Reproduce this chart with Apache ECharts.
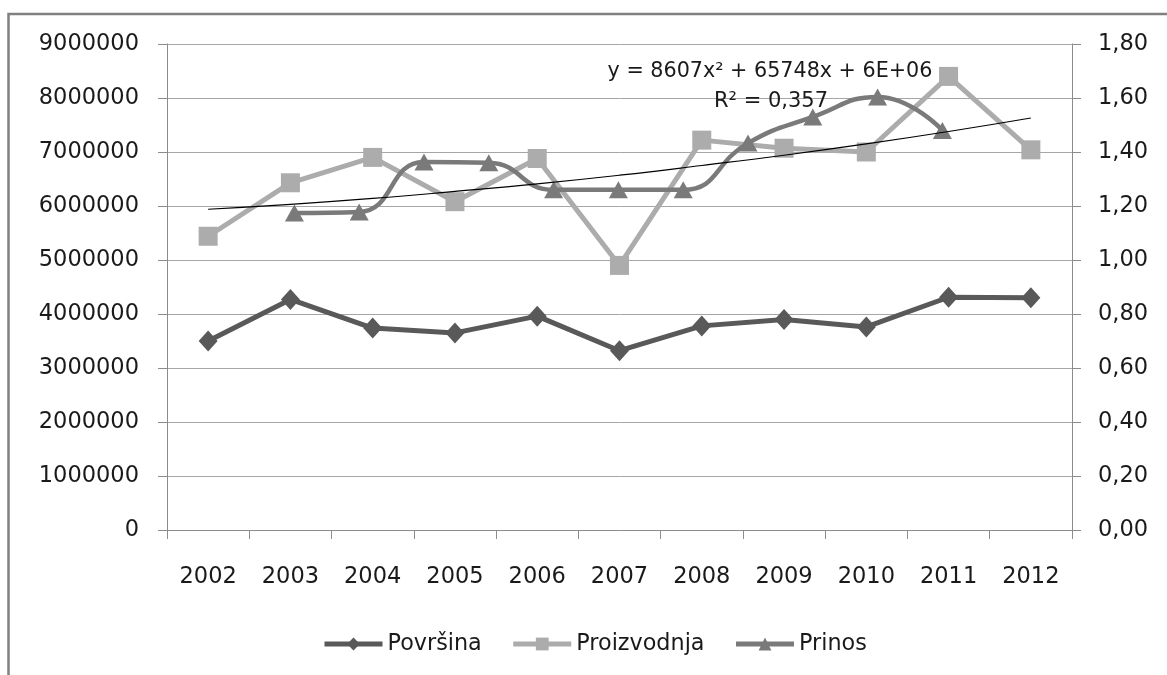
<!DOCTYPE html>
<html><head><meta charset="utf-8">
<script src="https://cdn.jsdelivr.net/npm/echarts@6/dist/echarts.min.js"></script>
<style>html,body{margin:0;padding:0;background:#fff}#c{width:1167px;height:675px}</style>
</head><body><div id="c"></div>
<script>
const years = ['2002','2003','2004','2005','2006','2007','2008','2009','2010','2011','2012'];
const povrsina = [3500000, 4270000, 3740000, 3650000, 3960000, 3320000, 3780000, 3900000, 3760000, 4310000, 4300000];
const proizvodnja = [5440000, 6430000, 6900000, 6080000, 6880000, 4900000, 7220000, 7070000, 7000000, 8400000, 7040000];
const prinos = [1.174, 1.178, 1.363, 1.36, 1.26, 1.26, 1.26, 1.433, 1.53, 1.604, 1.48];
const trend = [5940000, 6030000, 6140000, 6270000, 6410000, 6570000, 6750000, 6940000, 7150000, 7380000, 7630000];
const seriesNames = ['Površina', 'Proizvodnja', 'Prinos'];
const equationText = 'y = 8607x² + 65748x + 6E+06';
const r2Text = 'R² = 0,357';

const FONT = 'DejaVu Sans';
const TXT = '#1a1a1a';
const FS = 22.5;
const chart = echarts.init(document.getElementById('c'), null, {renderer: 'canvas'});
chart.setOption({
  animation: false,
  backgroundColor: '#fff',
  textStyle: {fontFamily: FONT},
  grid: {left: 167, right: 95, top: 44, bottom: 145, containLabel: false},
  legend: {
    left: 317, top: 628, itemWidth: 58, itemHeight: 16, itemGap: 29,
    textStyle: {fontFamily: FONT, fontSize: 22.3, color: TXT},
    data: [
      {name: seriesNames[0], lineStyle: {width: 5}},
      {name: seriesNames[1], lineStyle: {width: 5}},
      {name: seriesNames[2], lineStyle: {width: 5}}
    ]
  },
  xAxis: [{
    type: 'category', data: years, boundaryGap: true,
    axisLine: {lineStyle: {color: '#8c8c8c', width: 1}},
    axisTick: {show: true, length: 9, lineStyle: {color: '#8c8c8c'}},
    axisLabel: {fontFamily: FONT, fontSize: FS, color: TXT, margin: 36},
    splitLine: {show: false}
  }, {
    type: 'value', min: -1.966, max: 12, show: false
  }],
  yAxis: [{
    type: 'value', min: 0, max: 9000000, interval: 1000000,
    axisLine: {show: true, onZero: false, lineStyle: {color: '#8c8c8c'}},
    axisTick: {show: true, length: 9, lineStyle: {color: '#8c8c8c'}},
    axisLabel: {fontFamily: FONT, fontSize: FS, color: TXT, margin: 28, formatter: v => String(v)},
    splitLine: {show: true, lineStyle: {color: '#a6a6a6', width: 1}}
  }, {
    type: 'value', min: 0, max: 1.8, interval: 0.2, position: 'right',
    axisLine: {show: true, onZero: false, lineStyle: {color: '#8c8c8c'}},
    axisTick: {show: true, length: 9, lineStyle: {color: '#8c8c8c'}},
    axisLabel: {fontFamily: FONT, fontSize: FS, color: TXT, margin: 26,
      formatter: v => v.toFixed(2).replace('.', ',')},
    splitLine: {show: false}
  }],
  series: [{
    name: seriesNames[0], type: 'line', data: povrsina, xAxisIndex: 0, yAxisIndex: 0,
    symbol: 'diamond', symbolSize: [19, 21],
    lineStyle: {color: '#595959', width: 5}, itemStyle: {color: '#595959'}, z: 4
  }, {
    name: seriesNames[1], type: 'line', data: proizvodnja, xAxisIndex: 0, yAxisIndex: 0,
    symbol: 'rect', symbolSize: 19,
    lineStyle: {color: '#acacac', width: 5}, itemStyle: {color: '#acacac'}, z: 3
  }, {
    name: seriesNames[2], type: 'line', data: prinos.map((v, i) => [i, v]), xAxisIndex: 1, yAxisIndex: 1,
    symbol: 'triangle', symbolSize: [19, 17], smooth: 0.5,
    lineStyle: {color: '#7a7a7a', width: 4.5}, itemStyle: {color: '#7a7a7a'}, z: 5
  }, {
    name: 'trend', type: 'line', data: trend, xAxisIndex: 0, yAxisIndex: 0,
    symbol: 'none', smooth: true, silent: true,
    lineStyle: {color: '#000', width: 1.2}, z: 6
  }],
  graphic: [{
    type: 'rect', shape: {x: 8.5, y: 14, width: 1300, height: 800},
    style: {fill: 'none', stroke: '#808080', lineWidth: 2.5}, silent: true, z: -1
  }, {
    type: 'text', x: 770, y: 72,
    style: {text: equationText, font: '20.7px "DejaVu Sans"', fill: TXT, align: 'center', verticalAlign: 'middle'}, z: 10
  }, {
    type: 'text', x: 771, y: 102,
    style: {text: r2Text, font: '21px "DejaVu Sans"', fill: TXT, align: 'center', verticalAlign: 'middle'}, z: 10
  }]
});
</script></body></html>
